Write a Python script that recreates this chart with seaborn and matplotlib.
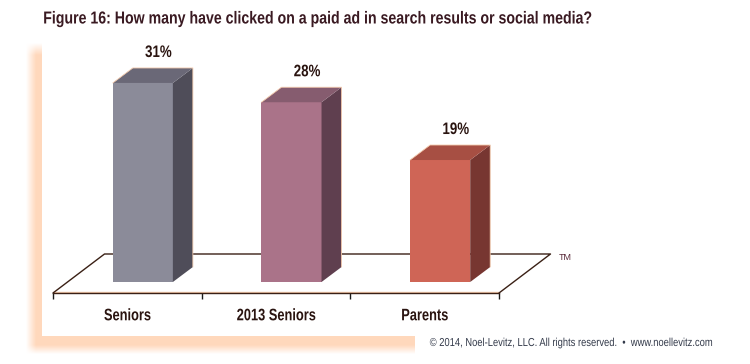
import numpy as np
import pandas as pd
import seaborn as sns
import matplotlib.pyplot as plt
from matplotlib.patches import Polygon
from matplotlib.patheffects import AbstractPathEffect
from matplotlib.transforms import Affine2D

categories = ['Seniors', '2013 Seniors', 'Parents']
values = [31, 28, 19]
value_labels = ['31%', '28%', '19%']
front_colors = ['#8b8b99', '#aa7389', '#cf6556']
side_colors = ['#4f4d59', '#5f3f4f', '#773631']
top_colors = ['#6a6877', '#865c6f', '#a74f43']

W, H = 750, 364
FLOOR_LEFT, FLOOR_RIGHT, FLOOR_FRONT = 53, 499, 293
K = 6.42  # pixels per percent
PEACH = '#f3c9ab'
INK = '#2a1410'


class Condense(AbstractPathEffect):
    # no condensed bold font installed, so squeeze the glyphs around their centre or left edge
    def __init__(self, sx, left=False):
        super().__init__()
        self.sx = sx
        self.left = left

    def draw_path(self, renderer, gc, tpath, affine, rgbFace=None):
        ext = tpath.get_extents()
        mid = ext.x0 if self.left else ext.x0 + ext.width / 2
        squeeze = Affine2D().translate(-mid, 0).scale(self.sx, 1).translate(mid, 0)
        renderer.draw_path(gc, tpath, squeeze + affine, rgbFace)


def make_frame():
    # peach blurred frame behind the chart
    xx, yy = np.meshgrid(np.arange(W) + 0.5, np.arange(H) + 0.5)
    a = np.clip((xx - 26) / 10, 0, 1) * np.clip((yy - 43) / 12, 0, 1)
    a = a * np.clip((354 - yy) / 9, 0, 1) * (xx < 415)
    img = np.ones((H, W, 4))
    img[..., 1] = 0.85
    img[..., 2] = 0.74
    img[..., 3] = a
    img[(xx > 42) & (yy < 336), 3] = 0
    return img


sns.set_theme(style='white')
plt.rcParams['font.family'] = ['Liberation Sans', 'DejaVu Sans']

fig = plt.figure(figsize=(W / 100, H / 100), dpi=100)

bg = fig.add_axes([0, 0, 1, 1], zorder=0)
bg.imshow(make_frame(), aspect='auto', interpolation='nearest')
bg.axis('off')

ax = fig.add_axes([FLOOR_LEFT / W, (H - FLOOR_FRONT) / H,
                   (FLOOR_RIGHT - FLOOR_LEFT) / W, FLOOR_FRONT / H], zorder=1)
ax.patch.set_alpha(0)

df = pd.DataFrame({'group': categories, 'pct': values})
sns.barplot(data=df, x='group', y='pct', hue='group', palette=front_colors,
            width=0.404, legend=False, ax=ax, saturation=1, linewidth=0, zorder=3)

cell = (FLOOR_RIGHT - FLOOR_LEFT) / 3
ax.set_xlim(-0.5, 2.5)
ax.set_ylim(-11 / K, 282 / K)

shift = 15.5 / cell
dx = 20 / cell
dy = 15 / K
for i, p in enumerate(list(ax.patches)):
    p.set_x(p.get_x() + shift)
    x0, x1 = p.get_x(), p.get_x() + p.get_width()
    h = p.get_height()
    ax.add_patch(Polygon([(x1, 0), (x1 + dx, dy), (x1 + dx, h + dy), (x1, h)],
                         fc=side_colors[i], ec='none', zorder=3, clip_on=False))
    ax.add_patch(Polygon([(x0, h), (x0 + dx, h + dy), (x1 + dx, h + dy), (x1, h)],
                         fc=top_colors[i], ec='none', zorder=3, clip_on=False))
    ax.plot([x0, x0 + dx, x1 + dx, x1 + dx], [h, h + dy, h + dy, dy],
            color=PEACH, lw=0.6, zorder=4, clip_on=False)
    ax.text((x0 + x1) / 2 + shift, h + dy + 15.5 / K, value_labels[i], ha='center', va='center',
            fontsize=12, fontweight='bold', color=INK, path_effects=[Condense(0.8)])

# floor: back edge and the slanted sides
floor_dx = 51.5 / cell
floor_dy = 39 / K
ybase = -11 / K
ax.plot([-0.5, -0.5 + floor_dx, 2.5 + floor_dx, 2.5],
        [ybase, ybase + floor_dy, ybase + floor_dy, ybase],
        color='#3a2015', lw=1, zorder=2, clip_on=False)
ax.plot([-0.5, 2.5], [ybase + 1 / K, ybase + 1 / K], color=PEACH, lw=1, zorder=1)

sns.despine(ax=ax, left=True, top=True, right=True)
ax.spines['bottom'].set_color('#3a2015')
ax.spines['bottom'].set_linewidth(1)
ax.set_yticks([])
ax.set_xlabel('')
ax.set_ylabel('')
ax.set_xticks([-0.5, 0.5, 1.5, 2.5])
ax.set_xticklabels([])
ax.set_xticks([0, 1, 2], labels=categories, minor=True)
ax.tick_params(axis='x', which='major', length=4, width=1, color='#1a1a1a', bottom=True)
ax.tick_params(axis='x', which='minor', length=0, pad=11, labelsize=12, labelcolor=INK)
for lab in ax.get_xticklabels(minor=True):
    lab.set_fontweight('bold')
    lab.set_path_effects([Condense(0.77)])

fig.text(43 / W, 1 - 19 / H, 'Figure 16: How many have clicked on a paid ad in search results or social media?',
         fontsize=12.5, fontweight='bold', color='#3a1a22', va='center', ha='left',
         path_effects=[Condense(0.815, left=True)])
fig.text(559 / W, 1 - 257.5 / H, 'TM', fontsize=6.5, color='#5a2a3a', va='center', ha='left')
fig.text(571.5 / W, 1 - 343 / H, '\u00a9 2014, Noel-Levitz, LLC. All rights reserved.  \u2022  www.noellevitz.com',
         fontsize=8.3, color='#333a4a', va='center', ha='center', path_effects=[Condense(0.814)])

fig.savefig('out.png', dpi=100)
